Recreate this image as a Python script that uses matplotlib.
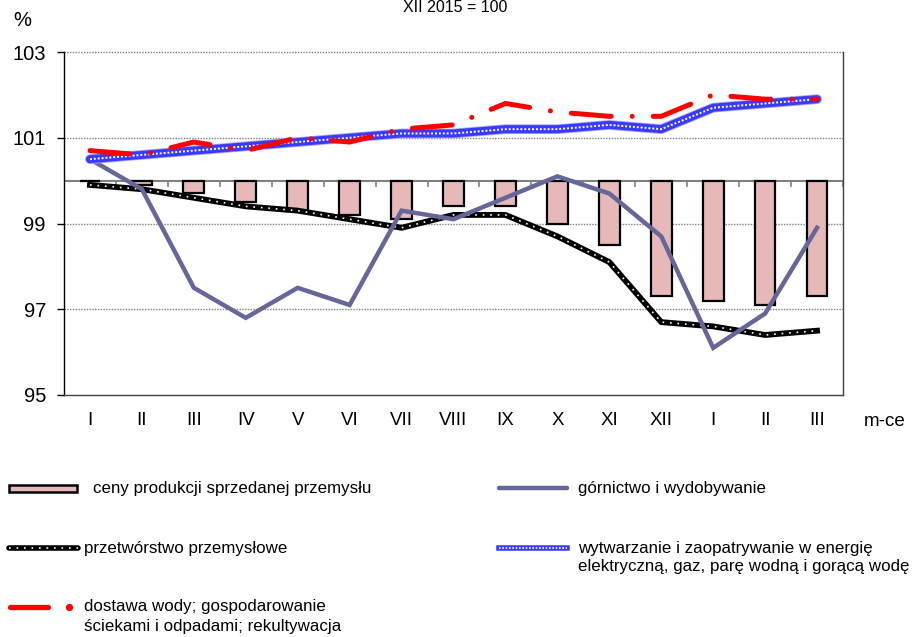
import numpy as np
import matplotlib
matplotlib.use('Agg')
import matplotlib.pyplot as plt
from matplotlib.lines import Line2D
from matplotlib.patches import Rectangle

plt.rcParams['font.family'] = ['Liberation Sans', 'DejaVu Sans']

months = ['I', 'II', 'III', 'IV', 'V', 'VI', 'VII', 'VIII', 'IX', 'X', 'XI', 'XII', 'I', 'II', 'III']
ceny = [100.0, 99.9, 99.7, 99.5, 99.3, 99.2, 99.1, 99.4, 99.4, 99.0, 98.5, 97.3, 97.2, 97.1, 97.3]
gornictwo = [100.5, 99.8, 97.5, 96.8, 97.5, 97.1, 99.3, 99.1, 99.6, 100.1, 99.7, 98.7, 96.1, 96.9, 98.9]
przetworstwo = [99.9, 99.8, 99.6, 99.4, 99.3, 99.1, 98.9, 99.2, 99.2, 98.7, 98.1, 96.7, 96.6, 96.4, 96.5]
energia = [100.5, 100.6, 100.7, 100.8, 100.9, 101.0, 101.1, 101.1, 101.2, 101.2, 101.3, 101.2, 101.7, 101.8, 101.9]
woda = [100.7, 100.6, 100.9, 100.7, 101.0, 100.9, 101.2, 101.3, 101.8, 101.6, 101.5, 101.5, 102.0, 101.9, 101.9]
y_ticks = [95, 97, 99, 101, 103]

labels = ['ceny produkcji sprzedanej przemysłu',
          'górnictwo i wydobywanie',
          'przetwórstwo przemysłowe',
          'wytwarzanie i zaopatrywanie w energię\nelektryczną, gaz, parę wodną i gorącą wodę',
          'dostawa wody; gospodarowanie\nściekami i odpadami; rekultywacja']

BAR_FC = '#E6B9B8'
PURPLE = '#666699'
RED = '#FF0000'
BLUE = '#3a3aff'

W, H = 914, 637
fig = plt.figure(figsize=(W / 100, H / 100), dpi=100)
ax = fig.add_axes([64 / W, 1 - 395 / H, (843 - 64) / W, (395 - 52) / H])

x = np.arange(len(months))
base = 100.0

# grid lines
for yv in y_ticks[1:]:
    ax.axhline(yv, color='#808080', lw=1.0, ls=(0, (1, 1)), zorder=0.5, clip_on=False)

# bars hanging from 100
ax.bar(x, np.array(ceny) - base, bottom=base, width=0.4, color=BAR_FC,
       edgecolor='black', linewidth=1.6, zorder=2)

# axis line at 100 with ticks between categories
ax.axhline(base, color='#808080', lw=1.5, zorder=1.5)
ax.vlines(np.arange(0.5, len(months), 1.0), base - 0.14, base, color='#808080', lw=1.2, zorder=1.5)

# przetworstwo: black with white dots
ax.plot(x, przetworstwo, color='black', lw=4.2, zorder=3, solid_joinstyle='round')
ax.plot(x, przetworstwo, color='white', lw=1.2, ls=(0, (1, 3.5)), zorder=3.1)

# gornictwo
ax.plot(x, gornictwo, color=PURPLE, lw=3.2, zorder=3.2, solid_joinstyle='miter')

# energia: checkered blue
ax.plot(x, energia, color='#a8a8ff', lw=7.0, zorder=3.3, solid_capstyle='round')
ax.plot(x, energia, color=BLUE, lw=5.8, zorder=3.4, solid_capstyle='round')
ax.plot(x, energia, color='white', lw=1.4, ls=(0, (1, 1)), zorder=3.5)

# woda: red dash-dot
ax.plot(x, woda, color=RED, lw=3.6, ls=(0, (8.0, 4.2, 0.01, 4.2)),
        dash_capstyle='round', zorder=3.6)

ax.set_xlim(-0.5, len(months) - 0.5)
ax.set_ylim(95, 103)
ax.set_yticks(y_ticks)
ax.set_yticklabels([str(v) for v in y_ticks], fontsize=14.5)
ax.set_xticks(x)
ax.set_xticklabels(months, fontsize=13.5)
ax.tick_params(axis='x', length=0, pad=12)
ax.tick_params(axis='y', length=5, width=1, pad=8, direction='out')

ax.spines['top'].set_visible(False)
ax.spines['left'].set_color('black')
ax.spines['right'].set_color('#404040')
ax.spines['bottom'].set_color('#404040')
for s in ['left', 'right', 'bottom']:
    ax.spines[s].set_linewidth(1.0)

# texts
fig.text(455 / W, 1.0, 'XII 2015 = 100', ha='center', va='top', fontsize=11.5)
fig.text(22 / W, 1 - 21 / H, '%', ha='center', va='center', fontsize=14.5)
fig.text(885 / W, 1 - 421 / H, 'm-ce', ha='center', va='center', fontsize=13.5)

# legend
def fx(px):
    return px / W

def fy(py):
    return 1 - py / H

fs = 12.2
fig.add_artist(Rectangle((fx(9), fy(492)), fx(77) - fx(9), fy(485) - fy(492),
                         facecolor=BAR_FC, edgecolor='black', lw=1.8, transform=fig.transFigure))
fig.text(fx(93), fy(488), labels[0], va='center', ha='left', fontsize=fs)

fig.add_artist(Line2D([fx(499), fx(567)], [fy(488), fy(488)], color=PURPLE, lw=3.2,
                      solid_capstyle='round', transform=fig.transFigure))
fig.text(fx(578), fy(488), labels[1], va='center', ha='left', fontsize=fs)

fig.add_artist(Line2D([fx(9), fx(78)], [fy(548), fy(548)], color='black', lw=4.0,
                      solid_capstyle='round', transform=fig.transFigure))
fig.add_artist(Line2D([fx(9), fx(78)], [fy(548), fy(548)], color='white', lw=1.2,
                      ls=(0, (1, 3.5)), transform=fig.transFigure))
fig.text(fx(84), fy(548), labels[2], va='center', ha='left', fontsize=fs)

fig.add_artist(Line2D([fx(499), fx(567)], [fy(548), fy(548)], color=BLUE, lw=4.0,
                      transform=fig.transFigure))
fig.add_artist(Line2D([fx(499), fx(567)], [fy(548), fy(548)], color='white', lw=1.2,
                      ls=(0, (1, 1)), transform=fig.transFigure))
fig.text(fx(578), fy(548), labels[3].split('\n')[0], va='center', ha='left', fontsize=fs)
fig.text(fx(578), fy(567), labels[3].split('\n')[1], va='center', ha='left', fontsize=fs)

fig.add_artist(Line2D([fx(10), fx(48)], [fy(607), fy(607)], color=RED, lw=3.8,
                      solid_capstyle='round', transform=fig.transFigure))
fig.add_artist(Line2D([fx(69)], [fy(607)], color=RED, marker='o', markersize=4.2, lw=0,
                      transform=fig.transFigure))
fig.text(fx(84), fy(607), labels[4].split('\n')[0], va='center', ha='left', fontsize=fs)
fig.text(fx(84), fy(626), labels[4].split('\n')[1], va='center', ha='left', fontsize=fs)

fig.savefig('out.png', dpi=100)
